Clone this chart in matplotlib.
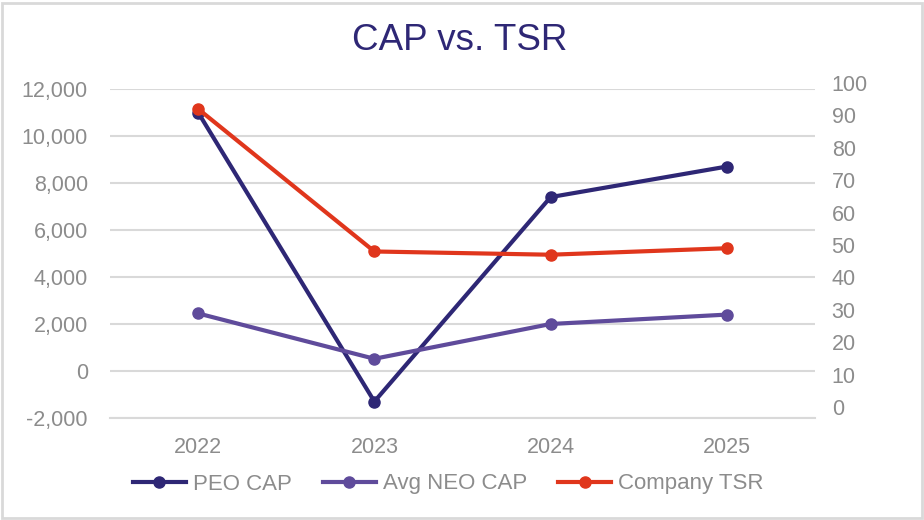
"""CAP vs. TSR line chart with a secondary axis."""

import matplotlib

matplotlib.use("Agg")
import matplotlib.pyplot as plt
from matplotlib.patches import Rectangle
from matplotlib.ticker import FuncFormatter

years = ["2022", "2023", "2024", "2025"]
peo_cap = [11000, -1300, 7400, 8700]
avg_neo_cap = [2450, 520, 2000, 2400]
company_tsr = [92, 48, 47, 49]

left_ticks = list(range(-2000, 12001, 2000))
right_ticks = list(range(0, 101, 10))

NAVY = "#2E2775"
PURPLE = "#5F4B9B"
RED = "#E0361C"
GRID = "#D9D9D9"
TEXT = "#8C8C8C"

plt.rcParams["font.family"] = ["Liberation Sans", "DejaVu Sans"]

W, H = 924, 520
fig = plt.figure(figsize=(W / 100, H / 100), dpi=100)

# outer chart border
fig.patches.append(
    Rectangle((2 / W, 2 / H), 1 - 4 / W, 1 - 5 / H, transform=fig.transFigure,
              fill=False, edgecolor=GRID, linewidth=2)
)

# primary axes: plot area 110..815 x, 89..418 y (pixels)
ax = fig.add_axes([110 / W, 1 - 418 / H, 705 / W, 329 / H])
# secondary axes: 0 at y=407, 100 at y=83
ax2 = fig.add_axes([110 / W, 1 - 407 / H, 705 / W, 324 / H], sharex=ax)
ax2.patch.set_visible(False)

x = list(range(len(years)))
line_kw = dict(linewidth=3, marker="o", markersize=8)
ax.plot(x, peo_cap, color=NAVY, label="PEO CAP", zorder=3, **line_kw)
ax.plot(x, avg_neo_cap, color=PURPLE, label="Avg NEO CAP", zorder=3, **line_kw)
ax2.plot(x, company_tsr, color=RED, label="Company TSR", zorder=3, **line_kw)

ax.set_xlim(-0.5, len(years) - 0.5)
ax.set_ylim(-2000, 12000)
ax.set_yticks(left_ticks)
ax.yaxis.set_major_formatter(FuncFormatter(lambda v, _: f"{int(v):,}"))
ax.grid(axis="y", color=GRID, linewidth=1.5)
ax.set_axisbelow(True)
for side in ("top", "right", "left"):
    ax.spines[side].set_visible(False)
ax.spines["bottom"].set_color(GRID)
ax.spines["bottom"].set_linewidth(1.5)
ax.set_xticks(x)
ax.set_xticklabels(years)
ax.tick_params(axis="both", length=0, labelsize=15.5, labelcolor=TEXT)
ax.tick_params(axis="x", pad=14)
ax.tick_params(axis="y", pad=16)

ax2.set_ylim(0, 100)
ax2.set_yticks(right_ticks)
ax2.yaxis.tick_right()
for side in ("top", "right", "left", "bottom"):
    ax2.spines[side].set_visible(False)
ax2.tick_params(axis="y", length=0, labelsize=15.5, labelcolor=TEXT, pad=12)
ax2.tick_params(axis="x", bottom=False, labelbottom=False)

fig.text(0.497, 1 - 41 / H, "CAP vs. TSR", ha="center", va="center",
         fontsize=26.5, color=NAVY)

handles = ax.get_lines() + ax2.get_lines()
leg = fig.legend(handles, [h.get_label() for h in handles], loc="center",
                 bbox_to_anchor=(0.485, 1 - 484 / H), ncol=3, frameon=False,
                 fontsize=16, handlelength=2.4, handletextpad=0.3,
                 columnspacing=1.4)
for t in leg.get_texts():
    t.set_color(TEXT)

fig.savefig("out.png", dpi=100)
